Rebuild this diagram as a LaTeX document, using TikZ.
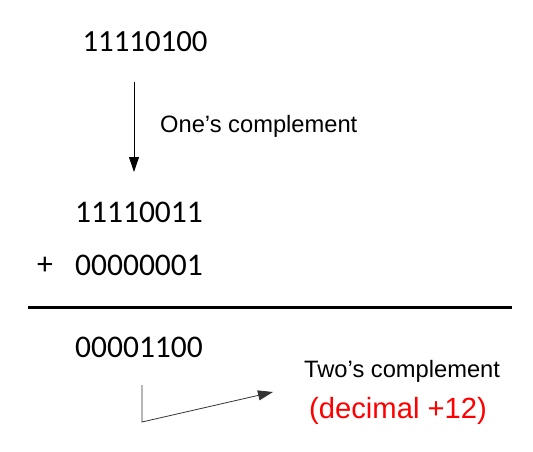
\documentclass[tikz,border=0pt]{standalone}
\usepackage{fontspec}
\setmainfont{Liberation Sans}
\newfontfamily\calfont{Carlito}
\usetikzlibrary{arrows.meta}
\tikzset{
  calnum/.style={inner sep=0pt, font=\calfont\fontsize{31.5}{33}\selectfont},
  lbl/.style={inner sep=0pt, font=\fontsize{23.7}{25}\selectfont},
  redlbl/.style={inner sep=0pt, text=red, font=\fontsize{29.2}{31}\selectfont},
  tri/.style={-{Triangle[length=15pt,width=10pt]}, line width=0.9pt},
  thin/.style={line width=0.8pt, draw=black!80},
}
\begin{document}
\begin{tikzpicture}[x=1pt,y=-1pt]
\useasboundingbox (0,0) rectangle (533,452);
\node[calnum, font=\calfont\fontsize{30.8}{32}\selectfont, anchor=base] (a) at (145,52) {11110100};
\coordinate (d1) at (134,82);
\coordinate (d2) at (134,172);
\draw[tri] (d1) -- (d2);
\node[lbl, anchor=base west] (one) at (160,132) {One’s complement};
\node[calnum, anchor=base] (b) at (139,222) {11110011};
\node[calnum, anchor=base] (plus) at (45,274) {+};
\node[calnum, anchor=base] (c) at (139,275) {00000001};
\coordinate (l1) at (28,307);
\coordinate (l2) at (512,307);
\draw[line width=3pt] (l1) -- (l2);
\node[calnum, anchor=base] (r) at (139,357) {00001100};
\node[lbl, anchor=base west] (two) at (304,377) {Two’s complement};
\node[redlbl, anchor=base west] (dec) at (309,418) {(decimal +12)};
\coordinate (e1) at (142,385);
\coordinate (e2) at (142,422);
\coordinate (e3) at (273,392);
\draw[thin, -{Triangle[length=15pt,width=10pt]}] (e1) -- (e2) -- (e3);
\end{tikzpicture}
\end{document}
